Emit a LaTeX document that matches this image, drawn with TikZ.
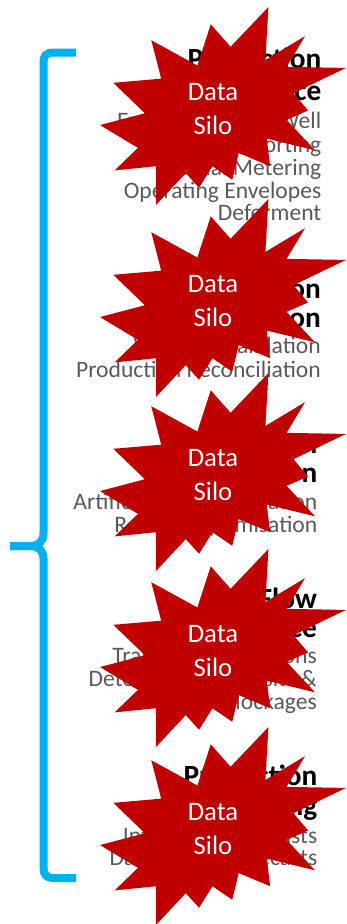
\documentclass[tikz,border=0pt]{standalone}
\usepackage{fontspec}
\setmainfont{Carlito}
\definecolor{bracecol}{HTML}{00B0F0}
\definecolor{silored}{HTML}{C00000}
\definecolor{itemgray}{HTML}{595959}
\tikzset{
  ttl/.style={anchor=base east, inner sep=0pt, font=\fontsize{29.3}{30}\selectfont\bfseries, text=black},
  itm/.style={anchor=base east, inner sep=0pt, font=\fontsize{23.6}{23}\selectfont, text=itemgray},
  silo/.style={anchor=base, inner sep=0pt, font=\fontsize{26.7}{34}\selectfont, text=white},
  bracestroke/.style={draw=bracecol, line width=8pt, line cap=butt, line join=round},
  starfill/.style={fill=silored}
}
\begin{document}
\begin{tikzpicture}[x=1pt,y=-1pt]
\useasboundingbox (0,0) rectangle (347,924);
% brace
\draw[bracestroke] (76,52.5) -- (53,52.5) .. controls (46.5,52.5) and (43.5,55.5) .. (43.5,62)
  -- (43.5,533) .. controls (43.5,541) and (39,546) .. (30,546) -- (10,546);
\draw[bracestroke] (10,546) -- (30,546) .. controls (39,546) and (43.5,551) .. (43.5,559)
  -- (43.5,868) .. controls (43.5,874.5) and (46.5,878) .. (53,878) -- (76,878);
% block 1
\node[ttl] (t1a) at (321.5,68) {Production};
\node[ttl] (t1b) at (321.5,100) {Surveillance};
\node[itm] (i1a) at (321.5,128) {Exception Based Well};
\node[itm] (i1b) at (321.5,152) {Reporting};
\node[itm] (i1c) at (321.5,175) {Virtual Metering};
\node[itm] (i1d) at (321.5,198) {Operating Envelopes};
\node[itm] (i1e) at (321.5,220) {Deferment};
% block 2
\node[ttl] (t2a) at (321,298) {Production};
\node[ttl] (t2b) at (321,327) {Allocation};
\node[itm] (i2a) at (321,353) {Well Test Validation};
\node[itm] (i2b) at (321,377) {Production Reconciliation};
% block 3
\node[ttl] (t3a) at (317.5,453) {Production};
\node[ttl] (t3b) at (317.5,482) {Optimisation};
\node[itm] (i3a) at (317.5,509) {Artificial Lift Optimisation};
\node[itm] (i3b) at (317.5,532) {Routing Optimisation};
% block 4
\node[ttl] (t4a) at (317,608) {Flow};
\node[ttl] (t4b) at (317,637) {Assurance};
\node[itm] (i4a) at (317,663) {Transient Simulations};
\node[itm] (i4b) at (317,686) {Detection of Deposits \&};
\node[itm] (i4c) at (317,709) {Blockages};
% block 5
\node[ttl] (t5a) at (317.5,785) {Production};
\node[ttl] (t5b) at (317.5,815) {Forecasting};
\node[itm] (i5a) at (317.5,843) {Integrated Forecasts};
\node[itm] (i5b) at (317.5,865) {Data Driven Forecasts};
% data silo explosions
\foreach \sy [count=\k] in {7,199,373,549,727} {
  \begin{scope}[shift={(100,\sy)}, x=1.138889pt, y=-0.916667pt]
    \fill[starfill] (114.62,43.42) -- (147.90,0) -- (145.25,57.77) -- (180.07,31.72)
      -- (163.80,65.32) -- (216,66.45) -- (169.85,94.02) -- (182.70,112.90)
      -- (163.80,123.10) -- (188.77,156.32) -- (146.40,143.50) -- (149.42,173.70)
      -- (121.80,159.35) -- (116.12,188.42) -- (98.72,173.70) -- (87.00,197.12)
      -- (75.27,181.25) -- (49.17,216) -- (49.05,173.70) -- (12.85,178.25)
      -- (33.30,153.70) -- (0,128.77) -- (39.35,115.92) -- (11.72,82.70)
      -- (53.72,78.17) -- (45.02,36.25) -- (85.50,63.82) -- (97.22,18.87) -- cycle;
  \end{scope}
  \node[silo] (d\k) at (213,\sy+93.5) {Data};
  \node[silo] (s\k) at (213,\sy+127.5) {Silo};
}
\end{tikzpicture}
\end{document}
